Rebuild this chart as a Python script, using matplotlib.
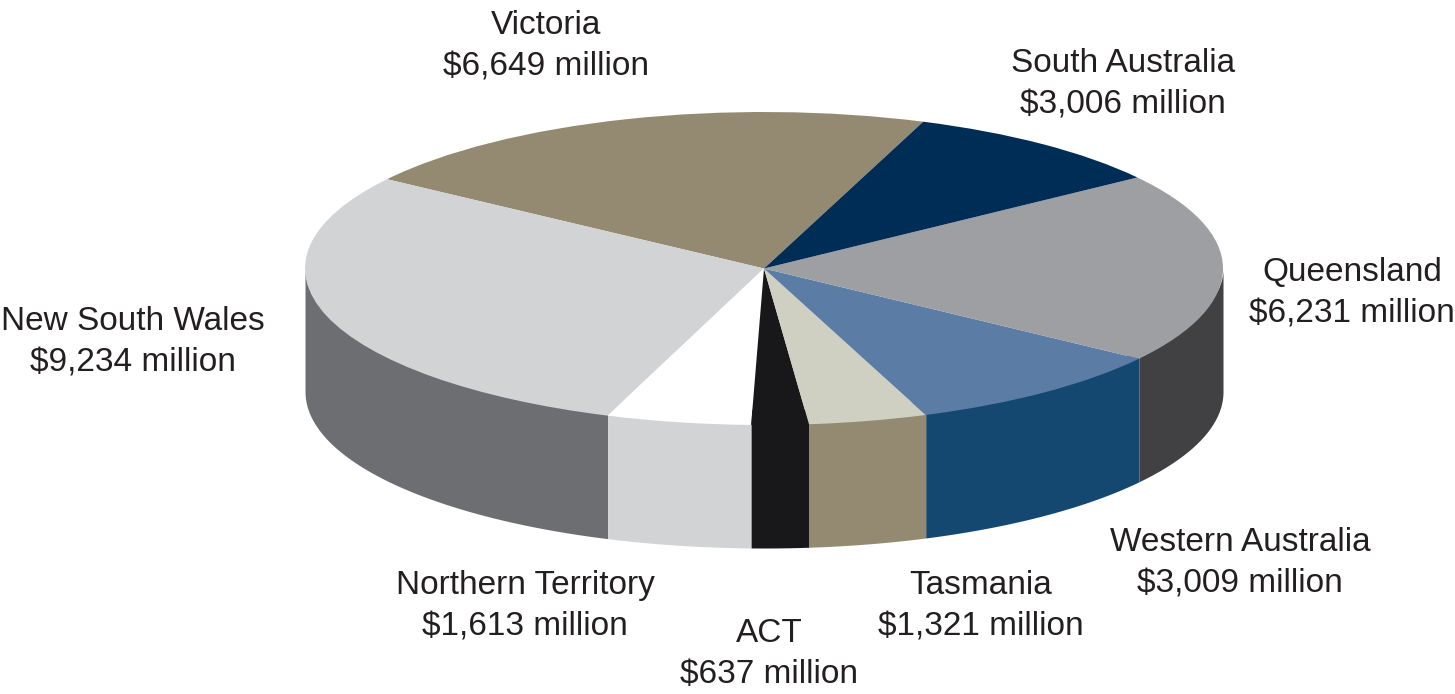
import matplotlib
matplotlib.use('Agg')
import matplotlib.pyplot as plt
import numpy as np

plt.rcParams['font.family'] = ['Liberation Sans', 'DejaVu Sans']

# going anticlockwise from the Victoria / South Australia boundary
states = ['Victoria', 'New South Wales', 'Northern Territory', 'ACT',
          'Tasmania', 'Western Australia', 'Queensland', 'South Australia']
values = [6649, 9234, 1613, 637, 1321, 3009, 6231, 3006]
top_colors = ['#938a71', '#d1d3d4', '#ffffff', '#18181a',
              '#cfcfc2', '#5b7ca5', '#9d9fa2', '#002d56']
side_colors = ['#938a71', '#6d6e71', '#d1d3d4', '#18181a',
               '#938a71', '#154870', '#414042', '#002d56']

# label centres in pixels
label_x = [546, 133, 525, 769, 981, 1240, 1352, 1123]
label_y = [46, 342, 606, 654, 606, 563, 293, 84]

start_angle = 69.7
W, H = 1455, 694
cx, cy, rx, ry = 764, 268.5, 459, 156.5
depth = 123 / ry

fig = plt.figure(figsize=(W / 100, H / 100), dpi=100)
ax = fig.add_axes([0, 0, 1, 1])

# wall of the disc, only the front half (180-360 deg) can be seen
# top of the wall runs a bit under the pie so no seam shows
edges = start_angle + np.cumsum([0] + values) / sum(values) * 360
for i in range(len(values)):
    a0 = max(edges[i], 180)
    a1 = min(edges[i + 1], 360)
    if a1 <= a0:
        continue
    t = np.radians(np.linspace(a0, a1, 80))
    ax.fill_between(np.cos(t), np.sin(t) * 0.9, np.sin(t) - depth,
                    color=side_colors[i], linewidth=0)

ax.pie(values, colors=top_colors, startangle=start_angle, radius=1,
       wedgeprops={'linewidth': 0})

# squash the pie into an ellipse, axes limits are worked out from pixels
ax.set_aspect('auto')
ax.set_xlim(-cx / rx, (W - cx) / rx)
ax.set_ylim((cy - H) / ry, cy / ry)

for i in range(len(states)):
    fig.text(label_x[i] / W, 1 - label_y[i] / H,
             states[i] + '\n$' + format(values[i], ',') + ' million',
             ha='center', va='center', fontsize=24, linespacing=1.44,
             parse_math=False, color='#231f20')

fig.savefig('out.png', dpi=100)
